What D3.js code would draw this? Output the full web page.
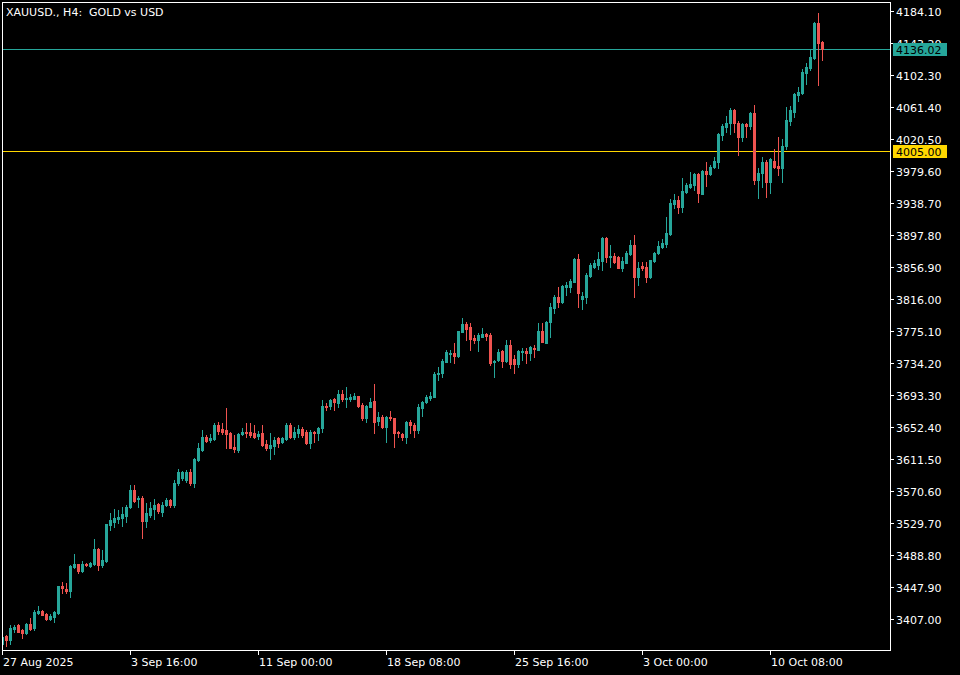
<!DOCTYPE html>
<html><head><meta charset="utf-8">
<script src="https://cdn.jsdelivr.net/npm/d3@7"></script>
<style>
html,body{margin:0;padding:0;background:#000;}
svg{display:block;}
text{font-family:"DejaVu Sans",sans-serif;font-size:11px;white-space:pre;}
</style>
</head><body>
<svg id="chart" width="960" height="675"></svg>
<script>
const title = "XAUUSD., H4:  GOLD vs USD";
const tradingDays = ["27 Aug","28 Aug","29 Aug","1 Sep","2 Sep","3 Sep","4 Sep","5 Sep","8 Sep","9 Sep","10 Sep","11 Sep","12 Sep","15 Sep","16 Sep","17 Sep","18 Sep","19 Sep","22 Sep","23 Sep","24 Sep","25 Sep","26 Sep","29 Sep","30 Sep","1 Oct","2 Oct","3 Oct","6 Oct","7 Oct","8 Oct","9 Oct","10 Oct","13 Oct","14 Oct"];
const sessionHours = ["00:00","04:00","08:00","12:00","16:00","20:00"];
const firstBar = "27 Aug 08:00";

const open = [3374.7,3384.9,3380.2,3393.8,3399.4,3393.0,3389.1,3400.6,3395.9,3414.7,
3417.7,3413.9,3407.0,3409.6,3415.1,3449.2,3445.8,3443.2,3473.9,3477.3,
3468.8,3477.3,3474.7,3477.3,3496.5,3476.0,3481.6,3527.1,3531.4,3534.4,
3536.5,3538.6,3549.7,3571.9,3559.9,3562.1,3532.7,3539.9,3547.6,3553.6,
3544.2,3552.7,3559.1,3553.0,3580.4,3586.8,3584.7,3595.3,3580.4,3610.2,
3623.0,3640.0,3635.8,3637.1,3655.0,3649.4,3648.1,3645.2,3626.4,3623.0,
3643.0,3646.4,3646.4,3644.3,3640.9,3644.3,3630.7,3626.0,3628.5,3637.9,
3633.7,3636.6,3655.0,3640.1,3644.3,3649.9,3645.6,3632.4,3646.4,3645.2,
3650.7,3679.7,3679.5,3687.8,3682.6,3694.6,3687.8,3687.8,3688.2,3692.0,
3680.5,3663.5,3678.4,3685.6,3660.1,3665.6,3652.0,3665.6,3663.5,3646.4,
3643.5,3640.0,3659.2,3655.0,3648.0,3677.0,3684.8,3689.0,3691.2,3720.2,
3721.0,3735.9,3745.7,3747.4,3743.2,3774.2,3784.0,3779.8,3766.6,3763.6,
3767.9,3771.7,3770.0,3735.1,3738.0,3749.5,3737.2,3757.2,3739.3,3732.9,
3747.8,3749.5,3747.4,3753.8,3750.8,3775.5,3760.2,3787.0,3804.9,3819.0,
3812.6,3830.9,3830.9,3838.2,3867.1,3816.0,3819.0,3845.4,3857.3,3859.5,
3865.0,3893.5,3870.1,3871.4,3870.1,3856.1,3862.4,3873.5,3885.0,3844.6,
3858.6,3856.5,3843.7,3865.0,3874.4,3882.9,3886.3,3899.1,3937.4,3942.6,
3934.0,3952.4,3958.7,3961.7,3975.8,3950.2,3980.0,3975.8,3984.3,3991.5,
4026.0,4036.3,4040.5,4057.6,4041.4,4022.6,4039.7,4037.1,4054.2,3968.1,
3977.5,3991.5,3966.0,3992.8,3986.0,3983.0,4011.6,4043.9,4055.5,4076.8,
4079.7,4105.3,4110.8,4123.6,4169.2,4144.5];
const high = [3385.3,3386.0,3398.9,3398.9,3400.2,3393.8,3401.5,3408.3,3418.5,3423.6,
3419.0,3414.5,3413.4,3417.7,3449.6,3454.3,3453.5,3475.5,3490.1,3477.8,
3481.2,3478.2,3479.6,3508.8,3497.5,3495.2,3528.8,3542.0,3547.6,3546.3,
3549.7,3552.7,3578.3,3578.0,3564.2,3564.2,3554.8,3556.9,3559.9,3555.7,
3556.9,3561.2,3561.0,3584.7,3598.7,3596.2,3597.5,3598.7,3612.4,3631.5,
3648.6,3642.2,3643.0,3657.1,3658.4,3657.1,3676.3,3646.4,3642.2,3644.3,
3650.7,3657.9,3657.1,3655.0,3647.3,3655.0,3635.8,3644.3,3640.1,3640.1,
3640.1,3657.1,3657.1,3652.8,3655.0,3652.8,3648.6,3648.6,3646.8,3652.8,
3686.9,3682.6,3688.2,3689.0,3699.7,3699.7,3704.0,3694.6,3695.4,3692.5,
3682.6,3680.5,3689.0,3707.4,3671.2,3667.7,3666.5,3672.9,3663.9,3647.7,
3644.3,3660.5,3661.4,3657.0,3681.8,3685.2,3693.3,3697.6,3723.1,3729.5,
3738.9,3750.8,3750.8,3760.2,3775.5,3792.1,3787.0,3784.9,3770.0,3772.1,
3778.5,3773.0,3773.0,3738.0,3751.7,3750.8,3763.6,3763.6,3744.4,3750.8,
3752.9,3752.9,3755.9,3757.2,3784.9,3784.9,3787.9,3810.5,3821.1,3831.8,
3833.9,3838.2,3841.1,3868.0,3873.1,3825.4,3848.8,3861.6,3865.9,3876.5,
3895.7,3895.7,3885.0,3874.4,3871.0,3870.1,3877.8,3891.4,3897.8,3863.7,
3863.7,3863.7,3866.3,3876.5,3890.1,3892.3,3921.3,3943.4,3949.8,3947.6,
3970.2,3963.9,3978.8,3977.5,3977.5,3980.9,3991.1,3987.3,3997.9,4028.6,
4039.7,4049.9,4060.6,4058.8,4043.9,4041.4,4041.4,4054.6,4064.0,3983.0,
3997.9,3993.7,3995.8,4007.3,4023.5,4020.1,4061.0,4062.7,4079.7,4086.6,
4109.6,4118.1,4135.1,4170.5,4181.1,4146.2];
const low = [3373.0,3372.5,3374.7,3390.8,3389.8,3383.2,3387.8,3392.5,3393.0,3413.4,
3411.5,3405.5,3405.5,3403.6,3413.4,3440.7,3440.7,3435.6,3471.8,3465.4,
3467.5,3474.7,3474.0,3476.0,3469.6,3473.9,3480.3,3520.8,3525.0,3529.3,
3525.9,3531.4,3549.3,3556.9,3550.6,3511.0,3525.0,3537.8,3534.4,3542.9,
3538.6,3551.4,3550.0,3550.5,3578.3,3584.7,3581.7,3578.3,3576.2,3609.0,
3621.7,3633.7,3633.7,3635.8,3643.0,3643.0,3626.0,3625.1,3620.9,3620.9,
3642.2,3640.0,3639.2,3637.9,3636.6,3628.5,3623.0,3611.5,3617.9,3627.3,
3631.5,3635.8,3637.9,3637.0,3640.1,3640.1,3630.7,3626.0,3633.7,3635.8,
3646.4,3674.1,3676.0,3674.1,3678.4,3686.1,3678.4,3686.1,3687.8,3678.4,
3661.4,3659.2,3677.5,3645.2,3655.0,3650.7,3633.7,3661.4,3627.3,3640.0,
3635.8,3631.5,3645.2,3640.0,3645.0,3667.0,3683.5,3686.9,3690.3,3712.5,
3716.7,3735.1,3735.9,3734.6,3742.3,3773.4,3763.6,3750.8,3759.3,3750.0,
3767.0,3763.6,3731.7,3716.7,3737.2,3729.5,3735.9,3727.4,3721.9,3729.5,
3738.0,3734.6,3738.0,3741.4,3750.5,3761.0,3759.4,3767.9,3798.5,3806.2,
3810.5,3821.1,3825.4,3837.5,3805.4,3802.8,3811.3,3844.6,3855.2,3853.9,
3853.1,3863.7,3857.3,3862.4,3855.2,3852.2,3861.6,3872.2,3819.0,3833.9,
3853.1,3838.2,3842.4,3863.7,3873.5,3880.8,3882.9,3897.8,3931.9,3926.4,
3927.6,3951.1,3957.5,3955.3,3940.4,3949.8,3960.4,3974.5,3983.0,3983.0,
4019.2,4029.9,4026.5,4029.9,4000.1,4018.0,4022.6,4032.9,3963.0,3944.7,
3958.8,3946.8,3951.9,3983.0,3974.5,3966.0,4007.3,4038.4,4048.2,4069.5,
4078.0,4090.8,4108.7,4122.3,4089.5,4121.5];
const close = [3384.0,3380.2,3395.5,3397.2,3390.4,3389.6,3400.6,3394.7,3416.4,3417.7,
3412.6,3406.6,3410.9,3416.4,3449.2,3446.2,3442.8,3474.8,3477.3,3468.4,
3477.3,3476.4,3479.0,3496.5,3476.0,3482.4,3528.4,3533.5,3536.5,3537.8,
3540.8,3550.6,3571.9,3558.2,3562.1,3532.7,3542.0,3549.3,3552.7,3545.0,
3552.7,3559.1,3553.0,3580.4,3594.5,3594.5,3595.3,3580.4,3611.5,3625.1,
3640.0,3634.5,3638.8,3655.0,3647.7,3646.4,3643.5,3626.0,3624.3,3643.5,
3646.4,3644.3,3642.2,3639.2,3643.0,3629.4,3626.0,3629.4,3635.8,3631.5,
3637.9,3655.0,3639.2,3645.6,3649.9,3642.2,3632.4,3645.6,3645.2,3651.6,
3679.7,3677.5,3686.9,3683.9,3694.6,3687.8,3689.9,3691.2,3692.0,3679.7,
3663.5,3679.2,3684.8,3659.2,3665.6,3652.0,3665.6,3663.5,3645.2,3644.3,
3640.0,3659.2,3655.0,3648.0,3677.6,3684.8,3691.2,3692.0,3720.2,3721.8,
3737.2,3748.7,3747.4,3743.2,3775.1,3784.0,3777.2,3764.5,3763.6,3770.0,
3770.8,3768.7,3734.6,3737.2,3748.7,3737.2,3757.2,3732.9,3732.9,3749.5,
3749.5,3747.4,3754.2,3751.7,3775.5,3761.5,3787.0,3806.2,3819.0,3812.6,
3832.6,3833.9,3839.0,3867.1,3823.3,3820.3,3846.7,3859.5,3861.6,3866.7,
3893.5,3869.3,3871.4,3863.7,3856.1,3865.0,3875.2,3885.0,3844.6,3855.2,
3855.2,3843.7,3865.9,3875.2,3884.2,3887.2,3900.8,3939.1,3942.6,3934.0,
3954.5,3961.7,3963.0,3975.8,3951.1,3980.0,3975.8,3985.2,3992.8,4026.9,
4037.1,4041.4,4057.6,4040.5,4022.6,4039.7,4037.1,4054.2,3968.1,3977.5,
3991.5,3966.0,3994.5,3985.2,3983.0,4011.6,4044.8,4057.6,4078.0,4081.0,
4106.6,4113.0,4125.8,4169.2,4143.6,4136.02];

const priceTicks = [3407.00,3447.90,3488.80,3529.70,3570.60,3611.50,3652.40,3693.30,3734.20,3775.10,
3816.00,3856.90,3897.80,3938.70,3979.60,4020.50,4061.40,4102.30,4143.20,4184.10];
const timeTickBars = ["27 Aug 08:00","3 Sep 16:00","11 Sep 00:00","18 Sep 08:00","25 Sep 16:00","3 Oct 00:00","10 Oct 08:00"];
const timeTickLabels = ["27 Aug 2025","3 Sep 16:00","11 Sep 00:00","18 Sep 08:00","25 Sep 16:00","3 Oct 00:00","10 Oct 08:00"];
const bidLevel = 4136.02;
const alertLevel = 4005.00;

const bullColor = "#26a69a", bearColor = "#ef5350", alertColor = "#ffd700";

// build bar times
const allTimes = [];
tradingDays.forEach(d => sessionHours.forEach(h => allTimes.push(d + " " + h)));
const startIdx = allTimes.indexOf(firstBar);
const times = allTimes.slice(startIdx, startIdx + open.length);
const bars = times.map((t, i) => ({t, o: open[i], h: high[i], l: low[i], c: close[i]}));

const W = 960, H = 675;
const plot = {left: 2, top: 2, right: 890, bottom: 650};

const svg = d3.select("#chart");
svg.append("rect").attr("width", W).attr("height", H).attr("fill", "#000");

const x = d3.scaleBand().domain(times).range([0, times.length * 4]).padding(0);
const y = d3.scaleLinear().domain([priceTicks[0], priceTicks[priceTicks.length - 1]]).range([619, 11]);

svg.append("clipPath").attr("id", "clip").append("rect")
  .attr("x", plot.left + 1).attr("y", plot.top + 1)
  .attr("width", plot.right - plot.left - 1).attr("height", plot.bottom - plot.top - 1);

const g = svg.append("g").attr("clip-path", "url(#clip)").attr("shape-rendering", "crispEdges");

// level lines
g.append("line").attr("x1", plot.left).attr("x2", plot.right)
  .attr("y1", Math.round(y(bidLevel)) + 0.5).attr("y2", Math.round(y(bidLevel)) + 0.5)
  .attr("stroke", bullColor).attr("stroke-width", 1);
g.append("line").attr("x1", plot.left).attr("x2", plot.right)
  .attr("y1", Math.round(y(alertLevel)) + 0.5).attr("y2", Math.round(y(alertLevel)) + 0.5)
  .attr("stroke", alertColor).attr("stroke-width", 1);

const candle = g.selectAll("g.candle").data(bars).join("g").attr("class", "candle");
candle.append("rect")
  .attr("x", d => x(d.t) + 2)
  .attr("width", 1)
  .attr("y", d => Math.round(y(d.h)))
  .attr("height", d => Math.max(1, Math.round(y(d.l)) - Math.round(y(d.h)) + 1))
  .attr("fill", d => d.c >= d.o ? bullColor : bearColor);
candle.append("rect")
  .attr("x", d => x(d.t) + 1)
  .attr("width", 3)
  .attr("y", d => Math.round(y(Math.max(d.o, d.c))))
  .attr("height", d => Math.max(1, Math.round(y(Math.min(d.o, d.c))) - Math.round(y(Math.max(d.o, d.c))) + 1))
  .attr("fill", d => d.c >= d.o ? bullColor : bearColor);

// frame
const frame = svg.append("g").attr("shape-rendering", "crispEdges").attr("stroke", "#fff").attr("stroke-width", 1);
frame.append("line").attr("x1", plot.left + 0.5).attr("x2", plot.left + 0.5).attr("y1", plot.top).attr("y2", plot.bottom + 1);
frame.append("line").attr("x1", plot.right + 0.5).attr("x2", plot.right + 0.5).attr("y1", plot.top).attr("y2", plot.bottom + 1);
frame.append("line").attr("x1", plot.left).attr("x2", plot.right + 1).attr("y1", plot.top + 0.5).attr("y2", plot.top + 0.5);
frame.append("line").attr("x1", plot.left).attr("x2", plot.right + 1).attr("y1", plot.bottom + 0.5).attr("y2", plot.bottom + 0.5);

// price axis
const yAxis = svg.append("g");
yAxis.selectAll("line.tick").data(priceTicks).join("line")
  .attr("x1", plot.right + 1).attr("x2", plot.right + 4)
  .attr("y1", d => Math.round(y(d)) + 0.5).attr("y2", d => Math.round(y(d)) + 0.5)
  .attr("stroke", "#fff").attr("shape-rendering", "crispEdges");
yAxis.selectAll("text").data(priceTicks).join("text")
  .attr("x", 896).attr("y", d => Math.round(y(d)) + 4.5)
  .attr("fill", "#fff").text(d => d3.format(".2f")(d));

// time axis
const xAxis = svg.append("g");
xAxis.selectAll("line").data(timeTickBars).join("line")
  .attr("x1", d => x(d) + 2.5).attr("x2", d => x(d) + 2.5)
  .attr("y1", plot.bottom + 1).attr("y2", plot.bottom + 5)
  .attr("stroke", "#fff").attr("shape-rendering", "crispEdges");
xAxis.selectAll("text").data(timeTickBars).join("text")
  .attr("x", d => Math.max(x(d) + 3, 3)).attr("y", 666)
  .attr("fill", "#fff").text((d, i) => timeTickLabels[i]);

// current price labels
function priceTag(v, bg) {
  const yy = Math.round(y(v));
  svg.append("rect").attr("x", 893).attr("y", yy - 6).attr("width", 54).attr("height", 13)
    .attr("fill", bg).attr("shape-rendering", "crispEdges");
  svg.append("text").attr("x", 896).attr("y", yy + 4.5).attr("fill", "#000").text(d3.format(".2f")(v));
}
priceTag(bidLevel, bullColor);
priceTag(alertLevel, alertColor);

// title
svg.append("text").attr("x", 6).attr("y", 15.5).attr("fill", "#fff").text(title);
</script>
</body></html>
